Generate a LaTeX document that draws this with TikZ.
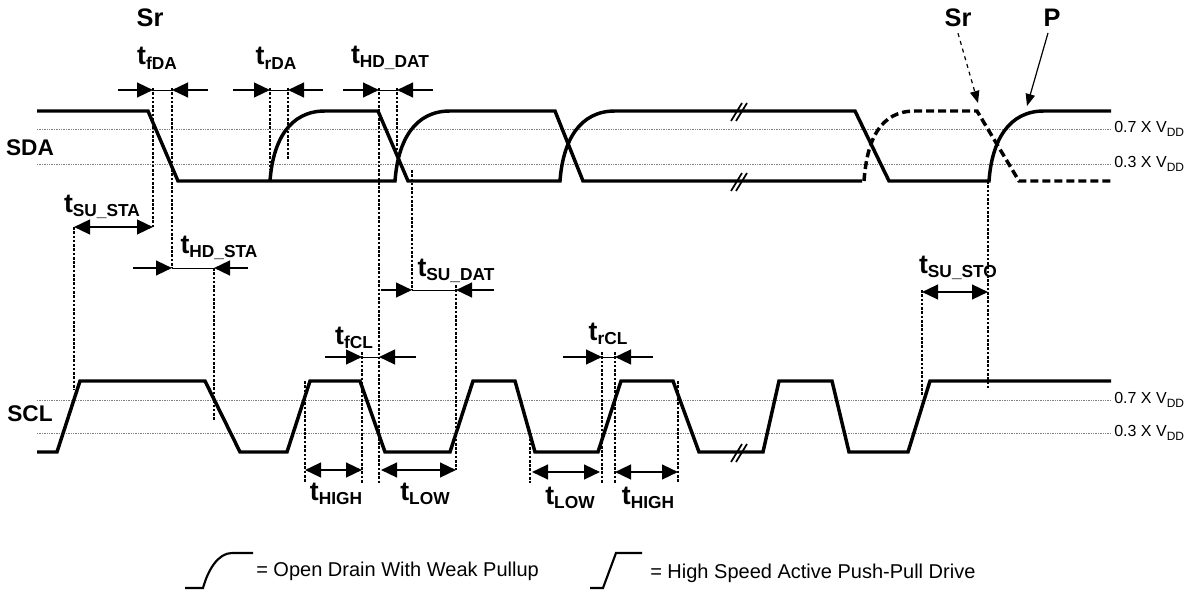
\documentclass[tikz,border=0pt]{standalone}
\usepackage{fontspec}
\setmainfont{Liberation Sans}
\usetikzlibrary{arrows.meta}
\newcommand\tlab[1]{{\bfseries\fontsize{20}{20}\selectfont t\raisebox{-3.5pt}{\fontsize{13}{13}\selectfont #1}}}
\newcommand\vdd[1]{{\fontsize{12}{12}\selectfont #1 X V\raisebox{-2.5pt}{\fontsize{9}{9}\selectfont DD}}}
\newcommand\dimin[5]{\draw[arr] (#2,#1)--(#3,#1); \draw[line width=0.7pt] (#3,#1)--(#4,#1); \draw[arr] (#5,#1)--(#4,#1);}
\newcommand\brk[2]{\draw[line width=1.3pt] (#1-7,#2+10)--(#1+4,#2-8); \draw[line width=1.3pt] (#1-2,#2+10)--(#1+9,#2-8);}
\begin{document}
\begin{tikzpicture}[x=0.75pt,y=-0.75pt,
  sig/.style={line width=2.6pt,line join=miter},
  dsig/.style={sig,dash pattern=on 6pt off 3pt},
  thr/.style={gray,line width=0.7pt,dash pattern=on 1pt off 0.8pt},
  vd/.style={line width=0.8pt,dash pattern=on 2pt off 1.2pt},
  arr/.style={line width=1.8pt,-{Triangle[length=12pt,width=11pt]}},
  darr/.style={line width=1.8pt,{Triangle[length=12pt,width=11pt]}-{Triangle[length=12pt,width=11pt]}},
  lab/.style={inner sep=0pt}]
\useasboundingbox (0,0) rectangle (1200,592);
% thresholds
\foreach \y in {129,164,400,433} \draw[thr] (37,\y)--(1110,\y);
\node[lab,anchor=west] at (1114,129) {\vdd{0.7}};
\node[lab,anchor=west] at (1114,164) {\vdd{0.3}};
\node[lab,anchor=west] at (1114,400) {\vdd{0.7}};
\node[lab,anchor=west] at (1114,433) {\vdd{0.3}};
\node[lab,font=\bfseries\fontsize{17}{17}\selectfont] at (30,148) {SDA};
\node[lab,font=\bfseries\fontsize{17}{17}\selectfont] at (30,414) {SCL};
% SDA
\draw[sig] (37,111)--(148,111)--(178,181)--(395,181) .. controls (398,140) and (415,111) .. (450,111)--(555,111)--(583,181)--(862,181);
\draw[sig] (270,181) .. controls (273,140) and (290,111) .. (325,111)--(378,111)--(408,181)--(560,181) .. controls (563,140) and (580,111) .. (615,111)--(855,111)--(889,181)--(989,181) .. controls (992,140) and (1009,111) .. (1044,111)--(1111,111);
\draw[dsig] (864,181) .. controls (867,140) and (880,111) .. (915,111)--(977,111)--(1019,181)--(1111,181);
\brk{738}{111} \brk{738}{181}
% SCL
\draw[sig] (37,452)--(57,452)--(80,381)--(205,381)--(240,452)--(287,452)--(310,381)--(360,381)--(385,452)--(450,452)--(473,381)--(515,381)--(535,452)--(598,452)--(621,381)--(673,381)--(699,452)--(763,452)--(779,381)--(832,381)--(849,452)--(908,452)--(930,381)--(1111,381);
\brk{738}{452}
% dotted verticals
\draw[vd] (153,88)--(153,227);
\draw[vd] (172,88)--(172,268);
\draw[vd] (74,227)--(74,390);
\draw[vd] (214,268)--(214,420);
\draw[vd] (270,88)--(270,170);
\draw[vd] (288,88)--(288,160);
\draw[vd] (379,88)--(379,483);
\draw[vd] (397,88)--(397,150);
\draw[vd] (412,170)--(412,290);
\draw[vd] (456,285)--(456,470);
\draw[vd] (362,352)--(362,483);
\draw[vd] (305,381)--(305,483);
\draw[vd] (530,430)--(530,483);
\draw[vd] (602,352)--(602,483);
\draw[vd] (615,352)--(615,483);
\draw[vd] (678,381)--(678,483);
\draw[vd] (988,181)--(988,390);
\draw[vd] (922,290)--(922,395);
% dimension arrows
\dimin{90}{118}{153}{172}{208}
\dimin{90}{233}{270}{288}{323}
\dimin{90}{343}{379}{397}{433}
\dimin{268}{133}{172}{214}{248}
\dimin{290}{381}{412}{456}{494}
\dimin{357}{325}{362}{379}{416}
\dimin{357}{563}{602}{615}{653}
\draw[darr] (74,227)--(153,227);
\draw[darr] (922,292)--(988,292);
\draw[darr] (305,470)--(362,470);
\draw[darr] (381,470)--(456,470);
\draw[darr] (532,472)--(600,472);
\draw[darr] (615,472)--(678,472);
% labels
\node[lab,font=\bfseries\fontsize{19}{19}\selectfont] (sr1) at (150,18) {Sr};
\node[lab,font=\bfseries\fontsize{19}{19}\selectfont] (sr2) at (958,18) {Sr};
\node[lab,font=\bfseries\fontsize{19}{19}\selectfont] (p) at (1052,18) {P};
\coordinate (srend) at (978,103);
\coordinate (pend) at (1027,106);
\draw[line width=0.9pt,dashed,-{Triangle[length=9pt,width=7pt]}] (sr2.south)++(0,6) -- (srend);
\draw[line width=0.9pt,-{Triangle[length=9pt,width=7pt]}] (p.south)++(-4,6) -- (pend);
\node[lab] at (157,58) {\tlab{fDA}};
\node[lab] at (276,58) {\tlab{rDA}};
\node[lab] at (390,58) {\tlab{HD\_DAT}};
\node[lab] at (102,207) {\tlab{SU\_STA}};
\node[lab] at (219,248) {\tlab{HD\_STA}};
\node[lab] at (456,271) {\tlab{SU\_DAT}};
\node[lab] at (354,338) {\tlab{fCL}};
\node[lab] at (608,334) {\tlab{rCL}};
\node[lab] at (958,268) {\tlab{SU\_STO}};
\node[lab] at (336,494) {\tlab{HIGH}};
\node[lab] at (425,494) {\tlab{LOW}};
\node[lab] at (570,498) {\tlab{LOW}};
\node[lab] at (648,498) {\tlab{HIGH}};
% legend
\draw[line width=1.6pt] (185,588)--(203,588) .. controls (208,570) and (218,553) .. (232,553)--(253,553);
\node[lab,anchor=west,font=\fontsize{15}{15}\selectfont] at (256,571) {= Open Drain With Weak Pullup};
\draw[line width=1.6pt] (590,588)--(603,588)--(616,553)--(642,553);
\node[lab,anchor=west,font=\fontsize{15}{15}\selectfont] at (650,573) {= High Speed Active Push-Pull Drive};
\end{tikzpicture}
\end{document}
